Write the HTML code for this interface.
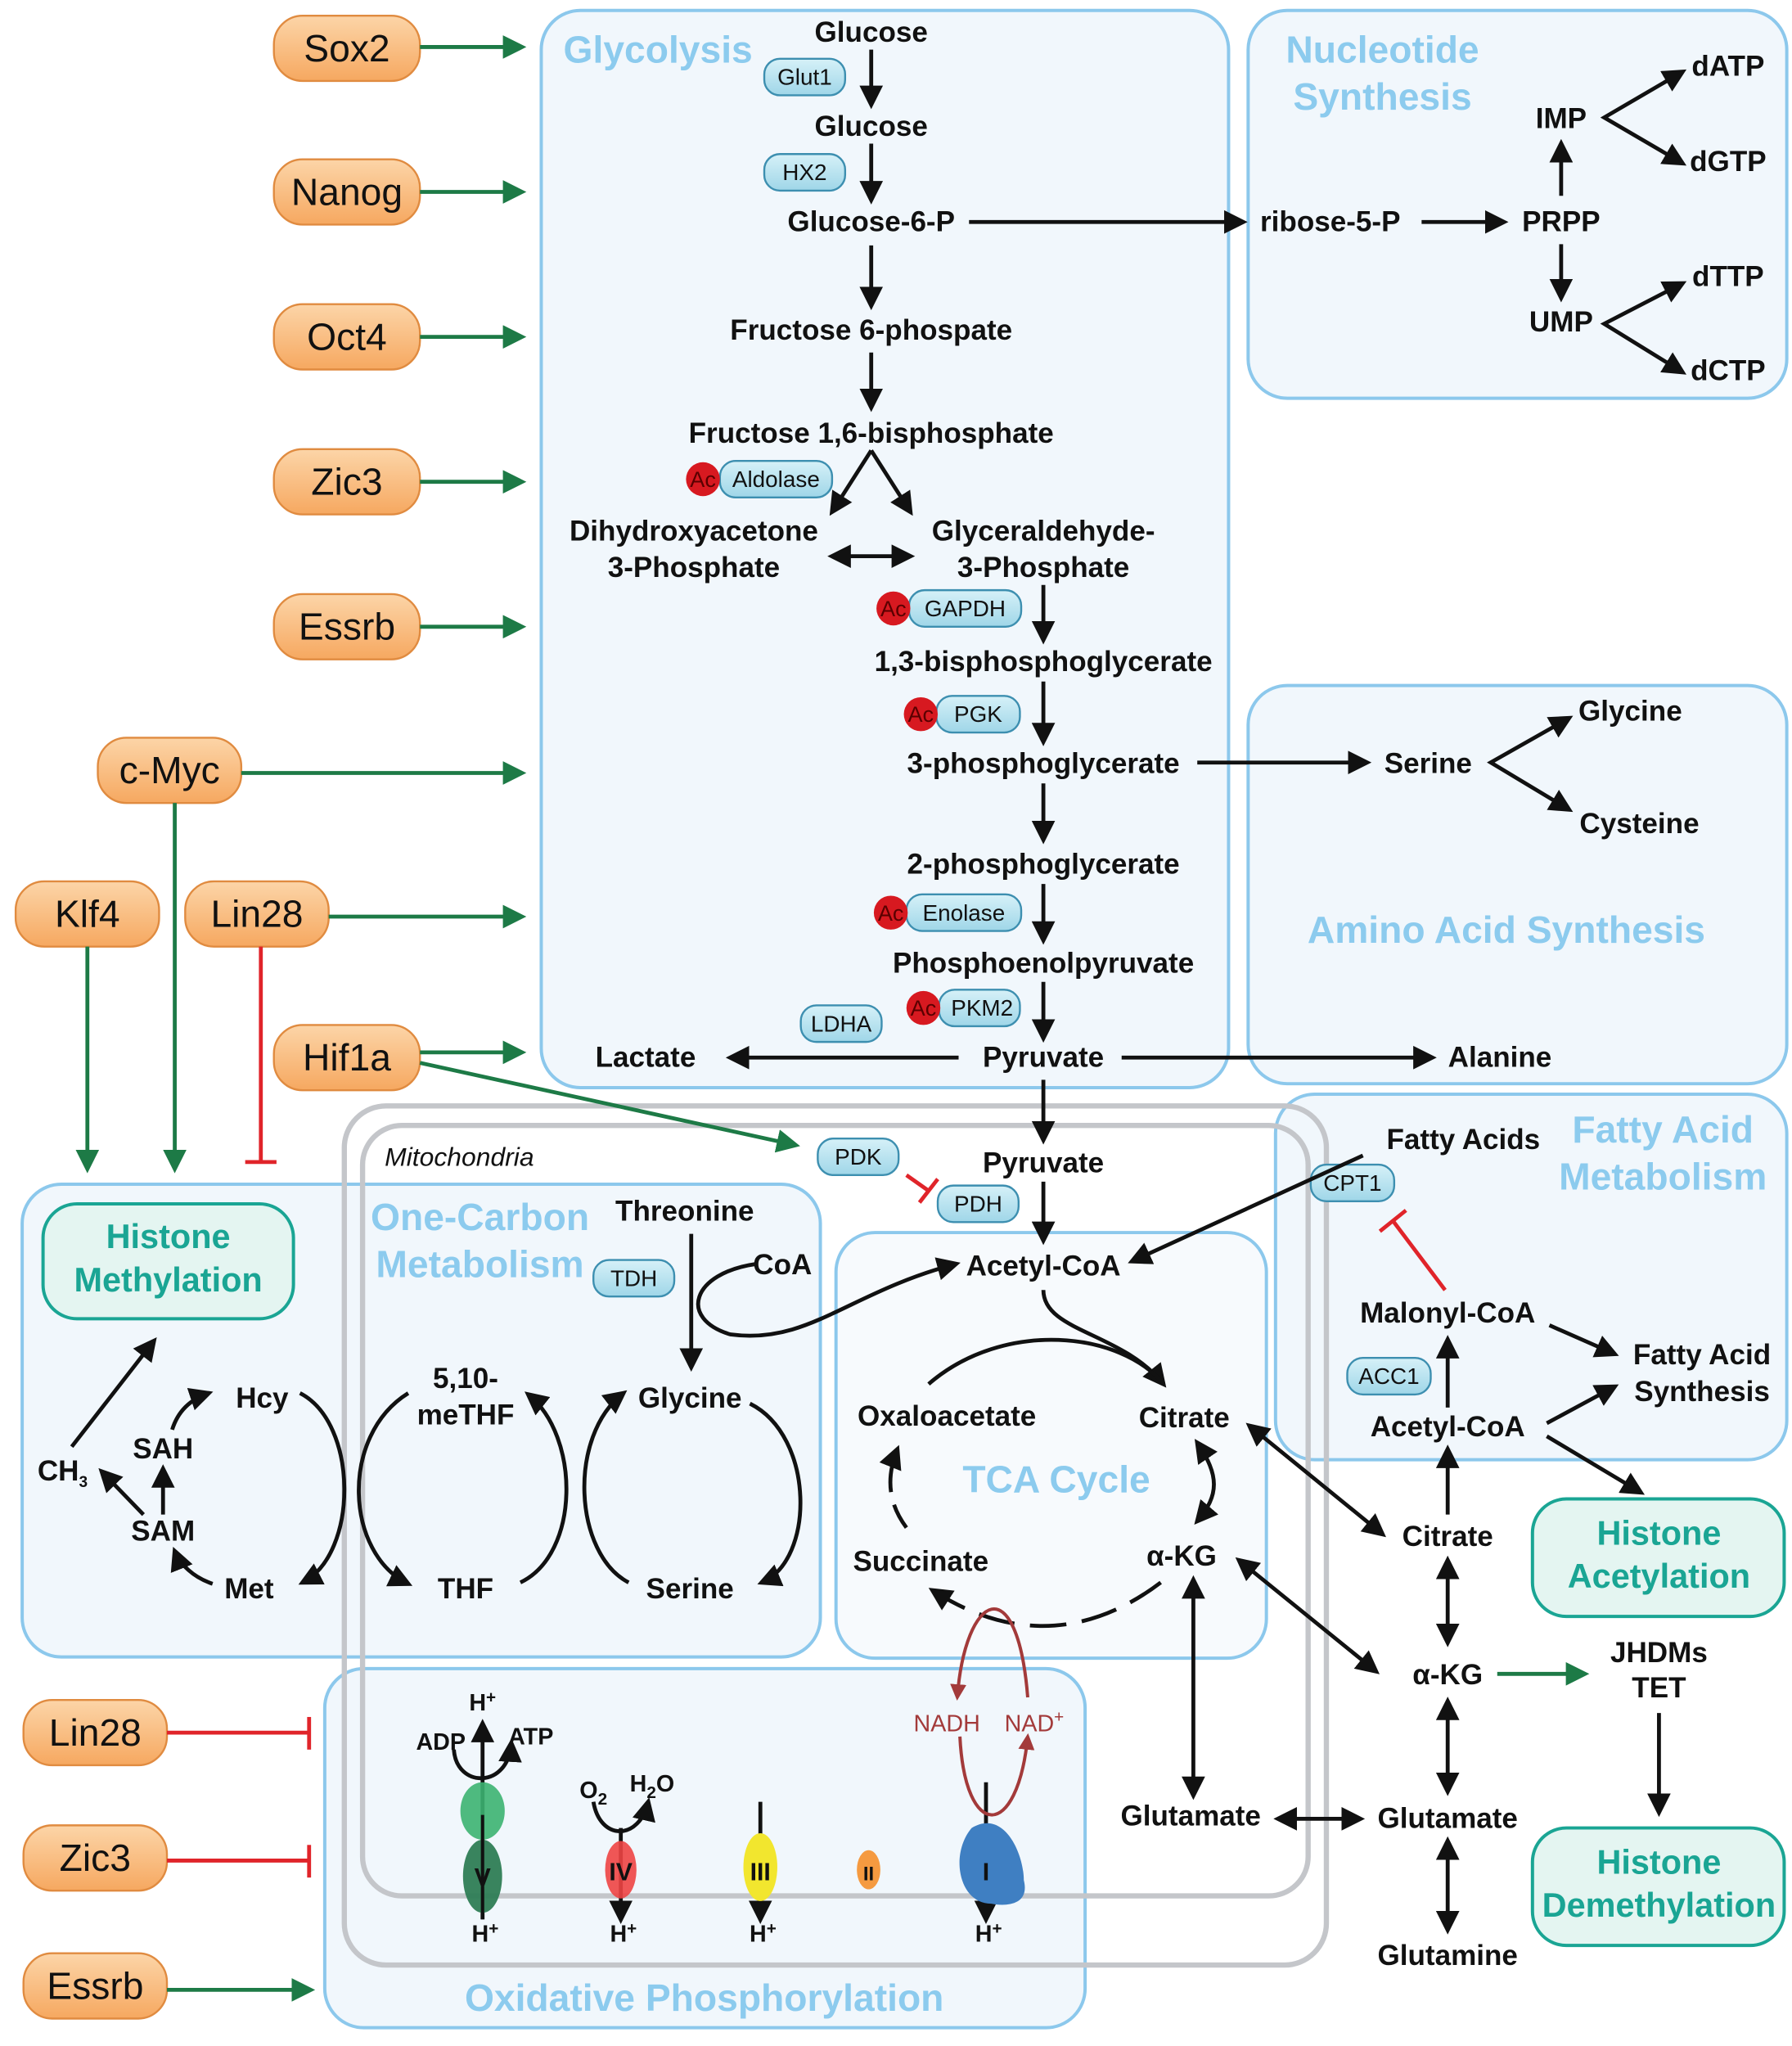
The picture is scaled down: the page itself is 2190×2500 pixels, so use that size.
<!DOCTYPE html>
<html><head><meta charset="utf-8"><style>
html,body{margin:0;padding:0;background:#fff}
svg{display:block}
text{font-family:"Liberation Sans",sans-serif}
.b{font-weight:bold;font-size:22px;fill:#111}
.t{font-weight:bold;font-size:29px;fill:#8ccbee}
.p{font-size:29px;fill:#111}
.e{font-size:17.5px;fill:#111}
.h{font-weight:bold;font-size:26px;fill:#1aa594}
</style></head><body>
<svg width="2190" height="2500" viewBox="0 0 1374 1567" preserveAspectRatio="none" xmlns="http://www.w3.org/2000/svg">
<defs>
<marker id="a" viewBox="0 0 10 10" refX="8" refY="5" markerWidth="6" markerHeight="6" orient="auto-start-reverse"><path d="M0,0L10,5L0,10z" fill="#111"/></marker>
<marker id="g" viewBox="0 0 10 10" refX="8" refY="5" markerWidth="6" markerHeight="6" orient="auto"><path d="M0,0L10,5L0,10z" fill="#1d7a46"/></marker>
<marker id="r" viewBox="0 0 10 10" refX="8" refY="5" markerWidth="5" markerHeight="5" orient="auto-start-reverse"><path d="M0,0L10,5L0,10z" fill="#a33a3a"/></marker>
<linearGradient id="og" x1="0" y1="0" x2="0" y2="1"><stop offset="0" stop-color="#fcd5a8"/><stop offset="1" stop-color="#f6a860"/></linearGradient>
<linearGradient id="eg" x1="0" y1="0" x2="0" y2="1"><stop offset="0" stop-color="#d6f1f8"/><stop offset="1" stop-color="#9fd6e8"/></linearGradient>
</defs>
<g fill="#f1f7fc" stroke="#8cc8ec" stroke-width="2.5">
<rect x="415" y="8" width="527" height="825" rx="30"/>
<rect x="957" y="8" width="413" height="297" rx="30"/>
<rect x="957" y="525" width="413" height="305" rx="30"/>
<rect x="978" y="838" width="392" height="280" rx="30"/>
<rect x="17" y="907" width="612" height="362" rx="30"/>
<rect x="249" y="1278" width="583" height="275" rx="30"/>
</g>
<g fill="none" stroke="#c4c6ca" stroke-width="4">
<rect x="264" y="847" width="753" height="658" rx="32"/>
<rect x="278" y="862" width="725" height="590" rx="30"/>
</g>
<rect x="641" y="944" width="330" height="326" rx="30" fill="#f1f7fc" fill-opacity="0.6" stroke="#8cc8ec" stroke-width="2.5"/>
<text class="t" x="432" y="48">Glycolysis</text>
<text class="t" x="1060" y="48" text-anchor="middle">Nucleotide</text>
<text class="t" x="1060" y="84" text-anchor="middle">Synthesis</text>
<text class="t" x="1155" y="722" text-anchor="middle">Amino Acid Synthesis</text>
<text class="t" x="1275" y="875" text-anchor="middle">Fatty Acid</text>
<text class="t" x="1275" y="911" text-anchor="middle">Metabolism</text>
<text class="t" x="368" y="942" text-anchor="middle">One-Carbon</text>
<text class="t" x="368" y="978" text-anchor="middle">Metabolism</text>
<text class="t" x="810" y="1143" text-anchor="middle">TCA Cycle</text>
<text class="t" x="540" y="1540" text-anchor="middle">Oxidative Phosphorylation</text>
<text x="295" y="893" font-size="20" font-style="italic" fill="#111">Mitochondria</text>
<g fill="#e4f5f1" stroke="#1aa594" stroke-width="2.5">
<rect x="33" y="922" width="192" height="88" rx="26"/>
<rect x="1175" y="1148" width="193" height="90" rx="26"/>
<rect x="1175" y="1400" width="193" height="90" rx="26"/>
</g>
<text class="h" text-anchor="middle"><tspan x="129" y="956">Histone</tspan><tspan x="129" y="989">Methylation</tspan></text>
<text class="h" text-anchor="middle"><tspan x="1272" y="1183">Histone</tspan><tspan x="1272" y="1216">Acetylation</tspan></text>
<text class="h" text-anchor="middle"><tspan x="1272" y="1435">Histone</tspan><tspan x="1272" y="1468">Demethylation</tspan></text>
<g fill="url(#og)" stroke="#e08b40" stroke-width="1.5">
<rect x="210" y="12" width="112" height="50" rx="22"/>
<rect x="210" y="122" width="112" height="50" rx="22"/>
<rect x="210" y="233" width="112" height="50" rx="22"/>
<rect x="210" y="344" width="112" height="50" rx="22"/>
<rect x="210" y="455" width="112" height="50" rx="22"/>
<rect x="75" y="565" width="110" height="50" rx="22"/>
<rect x="12" y="675" width="110" height="50" rx="22"/>
<rect x="142" y="675" width="110" height="50" rx="22"/>
<rect x="210" y="785" width="112" height="50" rx="22"/>
<rect x="18" y="1302" width="110" height="50" rx="22"/>
<rect x="18" y="1398" width="110" height="50" rx="22"/>
<rect x="18" y="1496" width="110" height="50" rx="22"/>
</g>
<g text-anchor="middle">
<text class="p" x="266" y="47">Sox2</text><text class="p" x="266" y="157">Nanog</text><text class="p" x="266" y="268">Oct4</text>
<text class="p" x="266" y="379">Zic3</text><text class="p" x="266" y="490">Essrb</text><text class="p" x="130" y="600">c-Myc</text>
<text class="p" x="67" y="710">Klf4</text><text class="p" x="197" y="710">Lin28</text><text class="p" x="266" y="820">Hif1a</text>
<text class="p" x="73" y="1337">Lin28</text><text class="p" x="73" y="1433">Zic3</text><text class="p" x="73" y="1531">Essrb</text>
</g>
<g stroke="#1d7a46" stroke-width="3" marker-end="url(#g)" fill="none">
<line x1="322" y1="36" x2="400" y2="36"/><line x1="322" y1="147" x2="400" y2="147"/><line x1="322" y1="258" x2="400" y2="258"/>
<line x1="322" y1="369" x2="400" y2="369"/><line x1="322" y1="480" x2="400" y2="480"/><line x1="185" y1="592" x2="400" y2="592"/>
<line x1="252" y1="702" x2="400" y2="702"/><line x1="322" y1="806" x2="400" y2="806"/>
<line x1="322" y1="814" x2="610" y2="877"/>
<line x1="67" y1="725" x2="67" y2="895"/><line x1="134" y1="615" x2="134" y2="895"/>
<line x1="128" y1="1524" x2="238" y2="1524"/>
<line x1="1148" y1="1282" x2="1215" y2="1282"/>
</g>
<g stroke="#e0242a" stroke-width="3" fill="none">
<line x1="200" y1="725" x2="200" y2="890"/><line x1="188" y1="890" x2="212" y2="890"/>
<line x1="128" y1="1327" x2="237" y2="1327"/><line x1="237" y1="1315" x2="237" y2="1340"/>
<line x1="128" y1="1425" x2="237" y2="1425"/><line x1="237" y1="1413" x2="237" y2="1438"/>
<line x1="695" y1="900" x2="712" y2="912"/><line x1="705" y1="921" x2="719" y2="903"/>
<line x1="1108" y1="988" x2="1068" y2="935"/><line x1="1058" y1="943" x2="1078" y2="927"/>
</g>
<g fill="url(#eg)" stroke="#3d8fb0" stroke-width="1.5">
<rect x="586" y="45" width="62" height="28" rx="12"/>
<rect x="586" y="118" width="62" height="28" rx="12"/>
<rect x="552" y="353" width="86" height="28" rx="12"/>
<rect x="697" y="452" width="86" height="28" rx="12"/>
<rect x="718" y="533" width="64" height="28" rx="12"/>
<rect x="695" y="685" width="88" height="28" rx="12"/>
<rect x="614" y="770" width="62" height="28" rx="12"/>
<rect x="720" y="758" width="62" height="28" rx="12"/>
<rect x="627" y="872" width="62" height="28" rx="12"/>
<rect x="719" y="908" width="62" height="28" rx="12"/>
<rect x="455" y="965" width="62" height="28" rx="12"/>
<rect x="1005" y="892" width="64" height="28" rx="12"/>
<rect x="1033" y="1040" width="64" height="28" rx="12"/>
</g>
<g text-anchor="middle">
<text class="e" x="617" y="65">Glut1</text><text class="e" x="617" y="138">HX2</text><text class="e" x="595" y="373">Aldolase</text>
<text class="e" x="740" y="472">GAPDH</text><text class="e" x="750" y="553">PGK</text><text class="e" x="739" y="705">Enolase</text>
<text class="e" x="645" y="790">LDHA</text><text class="e" x="753" y="778">PKM2</text><text class="e" x="658" y="892">PDK</text>
<text class="e" x="750" y="928">PDH</text><text class="e" x="486" y="985">TDH</text><text class="e" x="1037" y="912">CPT1</text>
<text class="e" x="1065" y="1060">ACC1</text>
</g>
<g fill="#d71920"><circle cx="539" cy="367" r="13"/><circle cx="685" cy="466" r="13"/><circle cx="706" cy="547" r="13"/><circle cx="683" cy="699" r="13"/><circle cx="708" cy="772" r="13"/></g>
<g font-size="17" fill="#5a0000" text-anchor="middle"><text x="539" y="373">Ac</text><text x="685" y="472">Ac</text><text x="706" y="553">Ac</text><text x="683" y="705">Ac</text><text x="708" y="778">Ac</text></g>
<g text-anchor="middle">
<text class="b" x="668" y="32">Glucose</text><text class="b" x="668" y="104">Glucose</text><text class="b" x="668" y="177">Glucose-6-P</text>
<text class="b" x="668" y="260">Fructose 6-phospate</text><text class="b" x="668" y="339">Fructose 1,6-bisphosphate</text>
<text class="b" x="532" y="414">Dihydroxyacetone</text><text class="b" x="532" y="442">3-Phosphate</text>
<text class="b" x="800" y="414">Glyceraldehyde-</text><text class="b" x="800" y="442">3-Phosphate</text>
<text class="b" x="800" y="514">1,3-bisphosphoglycerate</text><text class="b" x="800" y="592">3-phosphoglycerate</text>
<text class="b" x="800" y="669">2-phosphoglycerate</text><text class="b" x="800" y="745">Phosphoenolpyruvate</text>
<text class="b" x="800" y="817">Pyruvate</text><text class="b" x="495" y="817">Lactate</text><text class="b" x="1150" y="817">Alanine</text>
<text class="b" x="1020" y="177">ribose-5-P</text><text class="b" x="1197" y="177">PRPP</text><text class="b" x="1197" y="98">IMP</text><text class="b" x="1197" y="254">UMP</text>
<text class="b" x="1325" y="58">dATP</text><text class="b" x="1325" y="131">dGTP</text><text class="b" x="1325" y="219">dTTP</text><text class="b" x="1325" y="291">dCTP</text>
<text class="b" x="1095" y="592">Serine</text><text class="b" x="1250" y="552">Glycine</text><text class="b" x="1257" y="638">Cysteine</text>
<text class="b" x="800" y="898">Pyruvate</text><text class="b" x="800" y="977">Acetyl-CoA</text>
<text class="b" x="1122" y="880">Fatty Acids</text><text class="b" x="1110" y="1013">Malonyl-CoA</text>
<text class="b" x="1305" y="1045">Fatty Acid</text><text class="b" x="1305" y="1073">Synthesis</text>
<text class="b" x="1110" y="1100">Acetyl-CoA</text><text class="b" x="1110" y="1184">Citrate</text><text class="b" x="1110" y="1290">α-KG</text>
<text class="b" x="1110" y="1400">Glutamate</text><text class="b" x="1110" y="1505">Glutamine</text><text class="b" x="913" y="1398">Glutamate</text>
<text class="b" x="1272" y="1273">JHDMs</text><text class="b" x="1272" y="1300">TET</text>
<text class="b" x="726" y="1092">Oxaloacetate</text><text class="b" x="908" y="1093">Citrate</text><text class="b" x="706" y="1203">Succinate</text><text class="b" x="906" y="1199">α-KG</text>
<text class="b" x="525" y="935">Threonine</text><text class="b" x="600" y="976">CoA</text><text class="b" x="529" y="1078">Glycine</text><text class="b" x="529" y="1224">Serine</text>
<text class="b" x="357" y="1063">5,10-</text><text class="b" x="357" y="1091">meTHF</text><text class="b" x="357" y="1224">THF</text>
<text class="b" x="201" y="1078">Hcy</text><text class="b" x="191" y="1224">Met</text><text class="b" x="125" y="1117">SAH</text><text class="b" x="125" y="1180">SAM</text>
<text class="b" x="48" y="1134">CH<tspan font-size="12" dy="5">3</tspan></text>
</g>
<g stroke="#111" stroke-width="3" fill="none" marker-end="url(#a)">
<line x1="668" y1="38" x2="668" y2="80"/><line x1="668" y1="110" x2="668" y2="153"/><line x1="668" y1="188" x2="668" y2="234"/>
<line x1="668" y1="270" x2="668" y2="312"/><line x1="668" y1="345" x2="638" y2="392"/><line x1="668" y1="345" x2="698" y2="392"/>
<line x1="638" y1="426" x2="698" y2="426" marker-start="url(#a)"/>
<line x1="800" y1="448" x2="800" y2="490"/><line x1="800" y1="522" x2="800" y2="568"/><line x1="800" y1="600" x2="800" y2="643"/>
<line x1="800" y1="677" x2="800" y2="720"/><line x1="800" y1="752" x2="800" y2="795"/>
<line x1="735" y1="810" x2="560" y2="810"/><line x1="860" y1="810" x2="1098" y2="810"/>
<line x1="800" y1="827" x2="800" y2="873"/><line x1="800" y1="905" x2="800" y2="950"/>
<line x1="743" y1="170" x2="953" y2="170"/><line x1="1090" y1="170" x2="1153" y2="170"/>
<line x1="1197" y1="150" x2="1197" y2="110"/><line x1="1197" y1="187" x2="1197" y2="228"/>
<polyline points="1290,55 1230,90 1290,125" marker-start="url(#a)"/>
<polyline points="1290,217 1230,248 1290,285" marker-start="url(#a)"/>
<line x1="918" y1="584" x2="1048" y2="584"/><polyline points="1203,550 1143,584 1203,620" marker-start="url(#a)"/>
<line x1="1045" y1="885" x2="868" y2="966"/>
<line x1="1110" y1="1078" x2="1110" y2="1026"/>
<line x1="1186" y1="1090" x2="1238" y2="1062"/><line x1="1188" y1="1015" x2="1238" y2="1037"/>
<line x1="1186" y1="1100" x2="1258" y2="1143"/>
<line x1="1110" y1="1160" x2="1110" y2="1110"/>
<line x1="1110" y1="1195" x2="1110" y2="1258" marker-start="url(#a)"/>
<line x1="1110" y1="1303" x2="1110" y2="1372" marker-start="url(#a)"/>
<line x1="1110" y1="1410" x2="1110" y2="1478" marker-start="url(#a)"/>
<line x1="980" y1="1393" x2="1043" y2="1393" marker-start="url(#a)"/>
<line x1="958" y1="1092" x2="1060" y2="1175" marker-start="url(#a)"/>
<line x1="950" y1="1195" x2="1055" y2="1280" marker-start="url(#a)"/>
<line x1="915" y1="1210" x2="915" y2="1375" marker-start="url(#a)"/>
<line x1="1272" y1="1312" x2="1272" y2="1388"/>
<path d="M800,988 C800,1020 860,1020 892,1060"/>
<path d="M712,1060 C770,1010 860,1020 892,1060" marker-end="none"/>
<path d="M918,1105 C935,1130 935,1145 918,1165" marker-start="url(#a)"/>
<path d="M890,1212 C840,1250 780,1260 715,1218" stroke-dasharray="28,12"/>
<path d="M695,1170 C680,1150 680,1130 688,1110" stroke-dasharray="20,10"/>
<path d="M530,945 L530,1047"/>
<path d="M580,968 C530,975 520,1010 560,1022 C620,1030 650,990 733,968"/>
<path d="M482,1212 C440,1190 435,1100 478,1067"/><path d="M575,1075 C625,1100 625,1195 584,1212"/>
<path d="M313,1067 C260,1100 265,1190 313,1213"/><path d="M399,1212 C445,1190 445,1100 405,1068"/>
<path d="M230,1067 C275,1090 275,1190 232,1212"/>
<path d="M163,1213 C148,1208 138,1198 134,1188"/>
<path d="M132,1095 C136,1082 145,1072 160,1067"/>
<line x1="125" y1="1160" x2="125" y2="1125"/>
<line x1="110" y1="1160" x2="78" y2="1127"/>
<line x1="55" y1="1108" x2="118" y2="1027"/>
<line x1="370" y1="1470" x2="370" y2="1320"/>
<path d="M348,1340 C350,1370 390,1370 392,1335"/>
<path d="M455,1380 C460,1410 490,1410 497,1380"/>
<line x1="476" y1="1400" x2="476" y2="1470"/><line x1="583" y1="1380" x2="583" y2="1470"/><line x1="756" y1="1365" x2="756" y2="1470"/>
</g>
<g stroke="#a33a3a" stroke-width="2.5" fill="none">
<path d="M788,1300 C780,1200 740,1220 734,1300" marker-end="url(#r)"/>
<path d="M736,1330 C740,1410 780,1410 788,1330" marker-end="url(#r)"/>
</g>
<text x="726" y="1326" font-size="18" fill="#a33a3a" text-anchor="middle">NADH</text>
<text x="793" y="1326" font-size="18" fill="#a33a3a" text-anchor="middle">NAD<tspan font-size="13" dy="-7">+</tspan></text>
<ellipse cx="370" cy="1387" rx="17" ry="22" fill="#3cb371" opacity="0.9"/>
<ellipse cx="370" cy="1437" rx="15" ry="28" fill="#2e7d55" opacity="0.95"/>
<ellipse cx="476" cy="1432" rx="12" ry="22" fill="#ee4444" opacity="0.9"/>
<ellipse cx="583" cy="1430" rx="13" ry="26" fill="#f2e62e"/>
<ellipse cx="666" cy="1432" rx="9" ry="15" fill="#f59a40"/>
<path d="M745,1400 C770,1385 785,1420 785,1440 C790,1460 770,1460 760,1458 C735,1458 728,1420 745,1400z" fill="#3f7fc2"/>
<line x1="370" y1="1390" x2="370" y2="1470" stroke="#111" stroke-width="2.5"/>
<g font-weight="bold" font-size="19" fill="#111" text-anchor="middle">
<text x="370" y="1444">V</text><text x="476" y="1440">IV</text><text x="583" y="1440">III</text><text x="666" y="1440" font-size="15">II</text><text x="756" y="1440">I</text>
<text x="370" y="1310" font-size="18">H<tspan dy="-6" font-size="13">+</tspan></text>
<text x="338" y="1340" font-size="18">ADP</text><text x="407" y="1336" font-size="18">ATP</text>
<text x="455" y="1377" font-size="18">O<tspan dy="5" font-size="13">2</tspan></text><text x="500" y="1372" font-size="18">H<tspan dy="5" font-size="13">2</tspan><tspan dy="-5">O</tspan></text>
<text x="372" y="1487" font-size="18">H<tspan dy="-6" font-size="13">+</tspan></text><text x="478" y="1487" font-size="18">H<tspan dy="-6" font-size="13">+</tspan></text>
<text x="585" y="1487" font-size="18">H<tspan dy="-6" font-size="13">+</tspan></text><text x="758" y="1487" font-size="18">H<tspan dy="-6" font-size="13">+</tspan></text>
</g>
</svg>
</body></html>
